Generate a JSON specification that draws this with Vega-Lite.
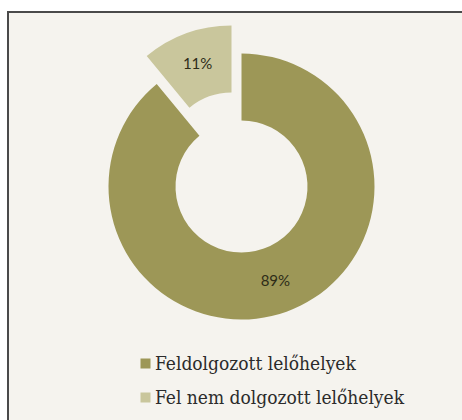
{
  "$schema": "https://vega.github.io/schema/vega-lite/v6.json",
  "autosize": {"type": "none"},
  "width": 458,
  "height": 412,
  "padding": {"left": 8, "top": 12, "right": -4, "bottom": -4},
  "background": "#ffffff",
  "view": {"fill": "#f5f3ee", "stroke": "#4a4a4a", "strokeWidth": 2, "strokeDash": [458, 870, 412]},
  "data": {
    "values": [
      {"cat": "Feldolgozott lelőhelyek", "share": 0.89, "order": 1},
      {"cat": "Fel nem dolgozott lelőhelyek", "share": 0.11, "order": 2}
    ]
  },
  "encoding": {
    "theta": {"field": "share", "type": "quantitative", "stack": true},
    "order": {"field": "order", "type": "quantitative"}
  },
  "layer": [
    {
      "mark": {
        "type": "arc",
        "outerRadius": 133,
        "innerRadius": 66,
        "xOffset": {"expr": "datum.order == 1 ? 4.5 : -5.5"},
        "yOffset": {"expr": "datum.order == 1 ? -31.5 : -59.5"}
      },
      "encoding": {
        "color": {
          "field": "cat",
          "type": "nominal",
          "scale": {
            "domain": ["Feldolgozott lelőhelyek", "Fel nem dolgozott lelőhelyek"],
            "range": ["#9d9757", "#c9c69c"]
          },
          "legend": {
            "title": null,
            "orient": "none",
            "legendX": 128,
            "legendY": 342,
            "symbolType": "square",
            "symbolSize": 100,
            "symbolStrokeWidth": 0,
            "labelFont": "DejaVu Serif Condensed, DejaVu Serif",
            "labelFontSize": 19,
            "labelColor": "#2b2b2b",
            "labelOffset": 0,
            "rowPadding": 14,
            "labelLimit": 400
          }
        }
      }
    },
    {
      "mark": {
        "type": "text",
        "radius": 100,
        "font": "Lato",
        "fontSize": 15,
        "color": "#2e2c18",
        "xOffset": {"expr": "datum.order == 1 ? 4.5 : -5.5"},
        "yOffset": {"expr": "datum.order == 1 ? -31.5 : -59.5"}
      },
      "encoding": {
        "text": {"field": "share", "type": "quantitative", "format": ".0%"}
      }
    }
  ]
}
